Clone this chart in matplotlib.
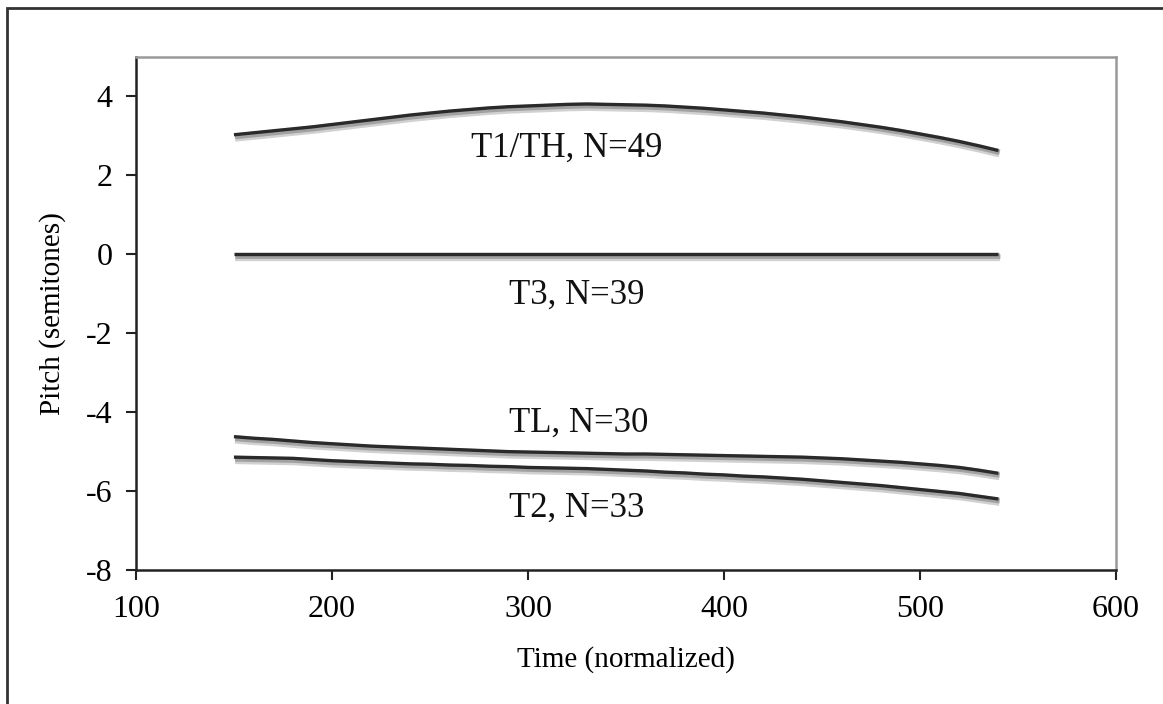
import matplotlib
matplotlib.use("Agg")
import matplotlib.pyplot as plt
import matplotlib.patheffects as pe
from matplotlib.patches import Rectangle

plt.rcParams["font.family"] = ["Liberation Serif", "DejaVu Serif"]
plt.rcParams["axes.unicode_minus"] = False

# time axis (normalized), one point every 10 units
TIME = list(range(150, 541, 10))

T1_TH = [3.03, 3.08, 3.13, 3.18, 3.23, 3.29, 3.35, 3.41, 3.47, 3.53,
         3.58, 3.63, 3.67, 3.71, 3.74, 3.76, 3.78, 3.80, 3.81, 3.80,
         3.79, 3.78, 3.76, 3.73, 3.70, 3.66, 3.62, 3.58, 3.53, 3.48,
         3.42, 3.36, 3.29, 3.22, 3.14, 3.05, 2.96, 2.86, 2.75, 2.63]
T3 = [0.0] * 40
TL = [-4.62, -4.66, -4.69, -4.73, -4.77, -4.80, -4.83, -4.86, -4.88, -4.90,
      -4.92, -4.94, -4.96, -4.98, -5.00, -5.01, -5.02, -5.03, -5.04, -5.05,
      -5.06, -5.06, -5.07, -5.08, -5.09, -5.10, -5.11, -5.12, -5.13, -5.14,
      -5.16, -5.18, -5.21, -5.24, -5.27, -5.31, -5.35, -5.40, -5.47, -5.55]
T2 = [-5.14, -5.15, -5.16, -5.17, -5.20, -5.23, -5.25, -5.27, -5.29, -5.31,
      -5.32, -5.34, -5.35, -5.37, -5.38, -5.40, -5.41, -5.42, -5.43, -5.45,
      -5.47, -5.49, -5.52, -5.54, -5.57, -5.59, -5.62, -5.64, -5.67, -5.70,
      -5.74, -5.78, -5.82, -5.86, -5.91, -5.96, -6.01, -6.06, -6.13, -6.20]

SERIES = [T1_TH, T3, TL, T2]
LABELS = ["T1/TH, N=49", "T3, N=39", "TL, N=30", "T2, N=33"]
LABEL_POS = [(320, 2.68), (325, -1.04), (326, -4.28), (325, -6.43)]

XTICKS = [100, 200, 300, 400, 500, 600]
YTICKS = [-8, -6, -4, -2, 0, 2, 4]

fig = plt.figure(figsize=(11.63, 7.04), dpi=100)
ax = fig.add_axes([0.1169, 0.1903, 0.8427, 0.7287])

# soft grey drop shadow under each curve
shadow = [pe.SimpleLineShadow(offset=(0.8, -2.0), shadow_color="0.6", alpha=0.45, linewidth=6),
          pe.SimpleLineShadow(offset=(0.8, -1.5), shadow_color="0.45", alpha=0.5, linewidth=3.5),
          pe.Normal()]
for ys in SERIES:
    ax.plot(TIME, ys, color="#2a2a2a", lw=2.4, solid_capstyle="butt",
            path_effects=shadow, zorder=3)

for text, (x, y) in zip(LABELS, LABEL_POS):
    ax.text(x, y, text, ha="center", va="center", fontsize=25, color="#111111")

ax.set_xlim(100, 600)
ax.set_ylim(-8, 5)
ax.set_xticks(XTICKS)
ax.set_yticks(YTICKS)
ax.tick_params(direction="out", length=7, width=1.5, labelsize=23, color="#222222")
ax.tick_params(axis="y", pad=10)
ax.tick_params(axis="x", pad=11)

for side in ["left", "bottom"]:
    ax.spines[side].set_color("#222222")
    ax.spines[side].set_linewidth(1.8)
for side in ["top", "right"]:
    ax.spines[side].set_color("#999999")
    ax.spines[side].set_linewidth(1.8)

ax.set_xlabel("Time (normalized)", fontsize=21, labelpad=16)
ax.set_ylabel("Pitch (semitones)", fontsize=21, labelpad=14)

# outer frame, runs off the right and bottom edges like the original
fig.patches.append(Rectangle((7 / 1163, -0.05), 1.1, 0.05 + 1 - 8 / 704,
                             transform=fig.transFigure, fill=False,
                             edgecolor="#333333", lw=2.0))

fig.savefig("out.png", dpi=100)
